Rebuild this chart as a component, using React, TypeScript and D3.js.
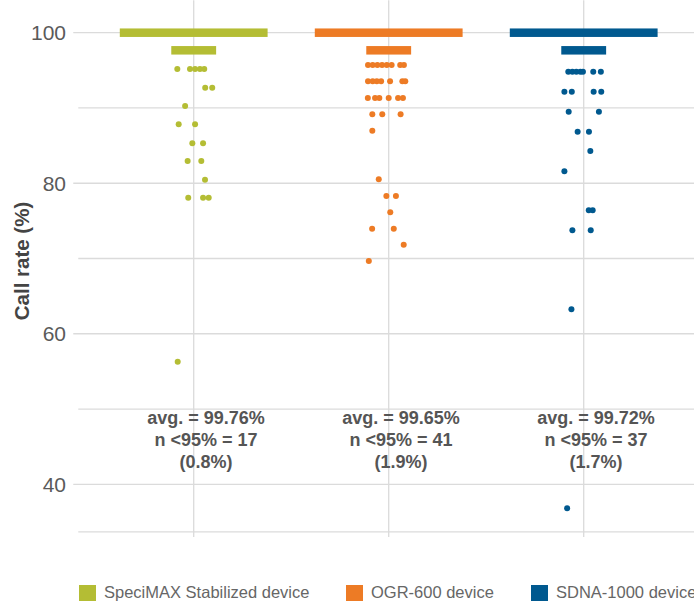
import React from "react";
import * as d3 from "d3";

// ---------- data ----------
const categories = ["SpeciMAX Stabilized device", "OGR-600 device", "SDNA-1000 device"];
const colors = ["#b4bd34", "#ed7b25", "#00598f"];

// rows so dense that the points merge into a bar: [value, half-spread in category units]
const denseRows: [number, number][] = [
  [100, 0.379],
  [97.66, 0.115],
];

// individual points: [call rate %, jitter in category units]
const speciMaxPoints: [number, number][] = [
  [95.18, -0.084], [95.18, -0.019], [95.18, 0.007], [95.18, 0.032], [95.18, 0.054],
  [92.7, 0.059], [92.7, 0.095],
  [90.26, -0.044],
  [87.83, -0.077], [87.83, 0.007],
  [85.3, -0.007], [85.3, 0.048],
  [82.95, -0.031], [82.95, 0.039],
  [80.47, 0.058],
  [78.08, -0.028], [78.08, 0.048], [78.08, 0.077],
  [56.29, -0.082],
];
const ogrPoints: [number, number][] = [
  [95.71, -0.106], [95.71, -0.082], [95.71, -0.058], [95.71, -0.034], [95.71, -0.01], [95.71, 0.015], [95.71, 0.059], [95.71, 0.078],
  [93.54, -0.106], [93.54, -0.082], [93.54, -0.061], [93.54, -0.039], [93.54, 0.007], [93.54, 0.07], [93.54, 0.085],
  [91.33, -0.107], [91.33, -0.07], [91.33, -0.048], [91.33, 0.0], [91.33, 0.048], [91.33, 0.073],
  [89.15, -0.084], [89.15, -0.033], [89.15, 0.061],
  [86.98, -0.084],
  [80.52, -0.051],
  [78.3, -0.012], [78.3, 0.037],
  [76.14, 0.008],
  [73.96, -0.085], [73.96, 0.026],
  [71.83, 0.077],
  [69.67, -0.102],
];
const sdnaPoints: [number, number][] = [
  [94.82, -0.079], [94.82, -0.058], [94.82, -0.038], [94.82, -0.017], [94.82, -0.004], [94.82, 0.049], [94.82, 0.088],
  [92.16, -0.099], [92.16, -0.061], [92.16, 0.051], [92.16, 0.09],
  [89.5, -0.077], [89.5, 0.078],
  [86.85, -0.031], [86.85, 0.027],
  [84.28, 0.034],
  [81.58, -0.099],
  [76.4, 0.026], [76.4, 0.046],
  [73.75, -0.058], [73.75, 0.036],
  [63.25, -0.063],
  [36.81, -0.085],
];
const groupPoints = [speciMaxPoints, ogrPoints, sdnaPoints];

const avgValues = ["99.76", "99.65", "99.72"];
const nBelow95 = [17, 41, 37];
const pctBelow95 = ["0.8", "1.9", "1.7"];

const yMajorTicks = [40, 60, 80, 100];
const yMinorTicks = [50, 70, 90];
const yLimits: [number, number] = [33.67, 104.3];
const labelValue = 48; // y value of first annotation line
const labelShift = 0.063; // annotation x shift in category units

// ---------- layout ----------
const W = 694;
const H = 601;
const gridColor = "#dbdbdb";
const textColor = "#555555";

export default function App() {
  const x = d3.scaleLinear().domain([0, 2]).range([193.7, 583.7]);
  const y = d3.scaleLinear().domain([40, 100]).range([484.3, 32.7]);
  const unit = x(1) - x(0);
  const left = x(-0.592);
  const right = x(2.62);
  const bottom = y(yLimits[0]);
  const top = y(yLimits[1]);
  const barH = 8.5;
  const r = 3;

  const legendX = [79, 346, 531];

  return (
    <svg width={W} height={H} style={{ position: "absolute", left: 0, top: 0 }}>
      <rect width={W} height={H} fill="#ffffff" />
      {/* minor gridlines */}
      {yMinorTicks.map((t) => (
        <line key={"mn" + t} x1={left} x2={right} y1={y(t)} y2={y(t)} stroke={gridColor} strokeWidth={1.3} />
      ))}
      {/* major gridlines with ticks */}
      {yMajorTicks.map((t) => (
        <line key={"mj" + t} x1={left - 5} x2={right} y1={y(t)} y2={y(t)} stroke={gridColor} strokeWidth={1.3} />
      ))}
      {/* bottom axis line */}
      <line x1={left} x2={right} y1={bottom} y2={bottom} stroke={gridColor} strokeWidth={1.3} />
      {/* vertical gridlines + ticks */}
      {categories.map((c, i) => (
        <line key={"v" + c} x1={x(i)} x2={x(i)} y1={top} y2={bottom + 5} stroke={gridColor} strokeWidth={1.3} />
      ))}
      {/* y tick labels */}
      {yMajorTicks.map((t) => (
        <text
          key={"yl" + t}
          x={66}
          y={y(t)}
          dy="0.36em"
          textAnchor="end"
          fontFamily="'Liberation Sans', Arial, sans-serif"
          fontSize={21}
          fontWeight={300}
          fill="#5a5a5a"
        >
          {t}
        </text>
      ))}
      {/* y title */}
      <text
        transform={`translate(29, 261) rotate(-90)`}
        textAnchor="middle"
        fontFamily="'Liberation Sans', Arial, sans-serif"
        fontSize={20.5}
        fontWeight={700}
        fill="#444444"
      >
        Call rate (%)
      </text>

      {/* dense rows as bars */}
      {categories.map((c, i) =>
        denseRows.map(([v, hw], k) => (
          <rect
            key={"b" + i + "-" + k}
            x={x(i - hw)}
            width={2 * hw * unit}
            y={y(v) - barH / 2}
            height={barH}
            fill={colors[i]}
          />
        ))
      )}
      {/* points */}
      {groupPoints.map((pts, i) =>
        pts.map(([v, j], k) => (
          <circle key={"p" + i + "-" + k} cx={x(i + j)} cy={y(v)} r={r} fill={colors[i]} />
        ))
      )}

      {/* annotations */}
      {categories.map((c, i) => {
        const lines = [
          `avg. = ${avgValues[i]}%`,
          `n <95% = ${nBelow95[i]}`,
          `(${pctBelow95[i]}%)`,
        ];
        return (
          <text
            key={"a" + c}
            x={x(i + labelShift)}
            y={y(labelValue)}
            textAnchor="middle"
            fontFamily="'Liberation Sans', Arial, sans-serif"
            fontSize={18}
            fontWeight={700}
            fill={textColor}
          >
            {lines.map((l, k) => (
              <tspan key={k} x={x(i + labelShift)} dy={k === 0 ? 0 : 22}>
                {l}
              </tspan>
            ))}
          </text>
        );
      })}

      {/* legend */}
      {categories.map((c, i) => (
        <g key={"lg" + c} transform={`translate(${legendX[i]}, 585)`}>
          <rect width={17} height={17} fill={colors[i]} />
          <text
            x={25}
            y={12.5}
            fontFamily="'Liberation Sans', Arial, sans-serif"
            fontSize={16.5}
            fill="#666666"
          >
            {c}
          </text>
        </g>
      ))}
    </svg>
  );
}
